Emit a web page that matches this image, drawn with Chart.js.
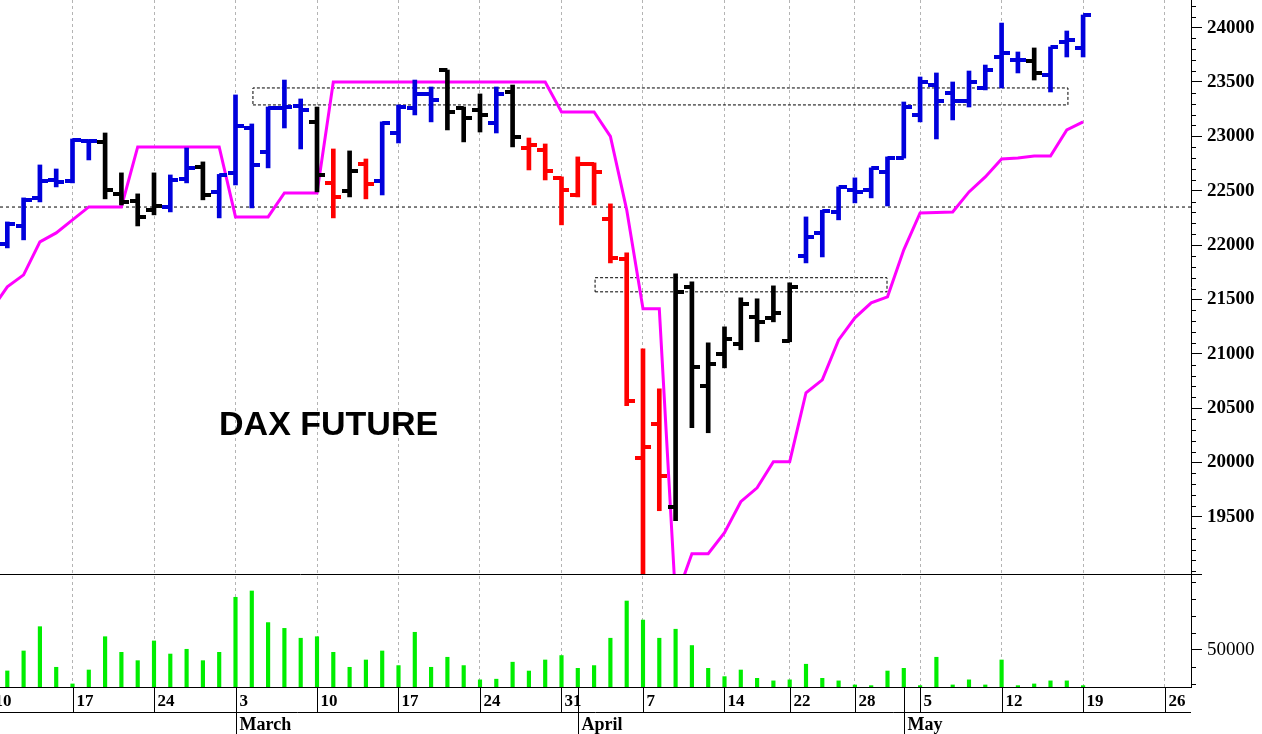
<!DOCTYPE html>
<html>
<head>
<meta charset="utf-8">
<title>DAX Future</title>
<script src="https://cdn.jsdelivr.net/npm/chart.js@4.4.1/dist/chart.umd.min.js"></script>
<style>
  html, body { margin:0; padding:0; background:#fff; }
  #wrap { width:1262px; height:734px; }
</style>
</head>
<body>
<div id="wrap"><canvas id="chart" width="1262" height="734"></canvas></div>
<script>
// Trading days, index 0 = Mon Feb 10 ... index 67 = Mon May 19
const weekStarts = [0, 5, 10, 15, 20, 25, 30, 35, 40, 45, 49, 53, 57, 62, 67, 72];
const weekLabels = ['10','17','24','3','10','17','24','31','7','14','22','28','5','12','19','26'];
const monthStarts = [15, 36, 56];
const monthLabels = ['March', 'April', 'May'];

const open  = [21950,22011,22176,22434,22599,22590,22958,22949,22471,22406,22324,22351,22609,22719,22489,22664,23077,22857,23261,23280,
               23133,22572,22498,22746,22590,23031,23261,23390,23610,23261,23243,23123,23408,22893,22875,22618,22461,22746,22241,21873,
               20044,20357,19594,21616,20706,21000,21092,21340,21331,21120,21901,22112,22305,22507,22507,22673,22801,23197,23472,23399,
               23325,23445,23730,23702,23693,23564,23868,23813];
const high  = [22100,22213,22434,22737,22700,22976,22967,23031,22664,22471,22664,22645,22893,22765,22650,23381,23114,23270,23518,23344,
               23270,22884,22866,22792,23133,23289,23518,23454,23610,23270,23390,23454,23472,22985,22930,22627,22811,22756,22379,21928,
               21046,20678,21735,21662,21101,21248,21515,21506,21625,21653,22259,22320,22535,22618,22710,22811,23316,23546,23583,23500,
               23601,23656,24042,23776,23813,23822,23969,24116];
const low   = [21900,21974,22048,22397,22535,22572,22783,22425,22369,22176,22278,22305,22572,22416,22250,22553,22342,22710,23077,22884,
               22489,22250,22443,22425,22461,22939,23197,23133,23059,22949,23040,23031,22903,22691,22599,22186,22443,22369,21836,20522,
               18500,19557,19465,20320,20274,20871,21037,21111,21294,21111,21836,21891,22232,22388,22434,22360,22800,23133,22976,23151,
               23270,23427,23445,23583,23518,23408,23730,23730];
const close = [22000,22195,22416,22590,22581,22967,22958,22507,22397,22259,22360,22599,22710,22461,22645,23096,22737,23261,23270,23243,
               22645,22443,22682,22563,23123,23270,23390,23335,23224,23169,23197,23390,22995,22921,22682,22507,22746,22673,21882,20568,
               20145,19879,21570,20880,20908,21138,21460,21294,21377,21616,22075,22314,22535,22489,22710,22801,23270,23500,23325,23325,
               23500,23610,23767,23702,23583,23822,23886,24116];
// b = blue, k = black, r = red
const trend = 'bbbbbbbkkkkbbkbbbbbbkrkrbbbbkkkbkrrrrrrrrrkkkkkkkkbbbbbbbbbbbbbbkbbb'.split('');
const volume = [40000,37650,49400,63700,39800,30000,38200,57800,48600,43700,55300,47600,50400,43700,48600,81000,84700,66100,62700,56900,
                57800,48600,39800,44100,49400,40800,60400,39800,45700,40800,32400,32800,42800,37600,44100,46700,39200,40800,56900,78800,
                67600,56900,62200,52600,39200,34300,38200,33300,31800,32400,41600,33300,31800,29400,29000,37600,39200,29000,45700,29400,
                32400,29400,44100,29000,30000,31800,31800,29000];
const stopLine = [21400,21616,21726,22030,22112,22232,22351,22351,22351,22903,22903,22903,22903,22903,22903,22259,22259,22259,22480,22480,
                  22480,23500,23500,23500,23500,23500,23500,23500,23500,23500,23500,23500,23500,23500,23500,23224,23224,23224,23000,22324,
                  21414,21414,18740,19162,19162,19354,19640,19768,20008,20008,20642,20761,21128,21331,21469,21524,21956,22296,22300,22305,
                  22489,22627,22792,22801,22820,22820,23059,23133];

const priceTicks = [19500, 20000, 20500, 21000, 21500, 22000, 22500, 23000, 23500, 24000];
const volumeTicks = [50000];
const supportLevel = 22350;
const boxFrom = [16.07, 37.06];
const boxTo   = [66.07, 54.97];
const boxLow  = [23289, 21570];
const boxHigh = [23445, 21700];

const X_MIN = 0.552, X_MAX = 73.62;
const P_MIN = 18975, P_MAX = 24254;
const V_MIN = 28200, V_MAX = 94700;
const TITLE_AT = [13.99, 20250];

const COLORS = { b:'#0000dc', k:'#000000', r:'#ff0000' };
const SERIF = '"Liberation Serif", "Times New Roman", serif';

// small canvases used as point styles for open (left) / close (right) ticks
function tickImage(color, side){
  const c = document.createElement('canvas');
  c.width = 16; c.height = 4;
  const g = c.getContext('2d');
  g.fillStyle = color;
  if(side === 'left') g.fillRect(0, 0, 8, 4); else g.fillRect(8, 0, 8, 4);
  return c;
}
const leftTick = {}, rightTick = {};
Object.keys(COLORS).forEach(k => { leftTick[k] = tickImage(COLORS[k], 'left'); rightTick[k] = tickImage(COLORS[k], 'right'); });

const pts = arr => arr.map((v, i) => ({ x: i, y: v }));

const datasets = [
  {
    type:'scatter', label:'open', order:0, yAxisID:'y',
    data: pts(open), pointRadius:4, pointHoverRadius:4,
    pointStyle: c => leftTick[trend[c.dataIndex]]
  },
  {
    type:'scatter', label:'close', order:0, yAxisID:'y',
    data: pts(close), pointRadius:4, pointHoverRadius:4,
    pointStyle: c => rightTick[trend[c.dataIndex]]
  },
  {
    type:'bar', label:'range', order:1, yAxisID:'y',
    data: high.map((h, i) => ({ x: i, y: [low[i], h] })),
    backgroundColor: trend.map(t => COLORS[t]),
    grouped:false, barPercentage:1, categoryPercentage:1, maxBarThickness:4, borderWidth:0
  },
  {
    type:'line', label:'stop', order:2, yAxisID:'y',
    data: pts(stopLine), borderColor:'#ff00ff', borderWidth:3, pointRadius:0, tension:0
  },
  {
    type:'line', label:'support', order:3, yAxisID:'y',
    data: [{x:X_MIN, y:supportLevel}, {x:X_MAX, y:supportLevel}],
    borderColor:'#000', borderWidth:1, borderDash:[3,3], pointRadius:0
  },
  ...boxFrom.map((x0, i) => ({
    type:'line', label:'box' + i, order:3, yAxisID:'y',
    data: [{x:x0,y:boxLow[i]},{x:boxTo[i],y:boxLow[i]},{x:boxTo[i],y:boxHigh[i]},{x:x0,y:boxHigh[i]},{x:x0,y:boxLow[i]}],
    borderColor:'#000', borderWidth:1, borderDash:[3,2], pointRadius:0
  })),
  {
    type:'bar', label:'volume', order:1, yAxisID:'yv',
    data: pts(volume), base: V_MIN,
    backgroundColor:'#00ee00',
    grouped:false, barPercentage:1, categoryPercentage:1, maxBarThickness:3.5, borderWidth:0
  }
];

function line(ctx, x1, y1, x2, y2){
  ctx.beginPath(); ctx.moveTo(x1, y1); ctx.lineTo(x2, y2); ctx.stroke();
}

const framePlugin = {
  id:'frame',
  afterDraw(chart){
    const { ctx } = chart;
    const xs = chart.scales.x, ys = chart.scales.y, yv = chart.scales.yv;
    const px = v => Math.round(xs.getPixelForValue(v)) + 0.5;
    ctx.save();
    ctx.strokeStyle = '#000';
    ctx.lineWidth = 1;
    ctx.fillStyle = '#000';

    // divider between price and volume panel
    const yd = Math.round(yv.top) + 0.5;
    line(ctx, xs.left, yd, ys.left + 11, yd);

    // minor ticks
    for(let v = 19000; v <= 24200; v += 100){
      if(priceTicks.includes(v)) continue;
      const y = Math.round(ys.getPixelForValue(v)) + 0.5;
      line(ctx, ys.left, y, ys.left + 5, y);
    }
    for(let v = 30000; v <= 90000; v += 10000){
      if(volumeTicks.includes(v)) continue;
      const y = Math.round(yv.getPixelForValue(v)) + 0.5;
      line(ctx, yv.left, y, yv.left + 5, y);
    }

    // date band
    const top = xs.top, mid = xs.top + 25, bottom = chart.height;
    line(ctx, xs.left, Math.round(mid) + 0.5, xs.right, Math.round(mid) + 0.5);
    ctx.font = 'bold 17px ' + SERIF;
    ctx.textBaseline = 'alphabetic';
    ctx.textAlign = 'left';
    weekStarts.forEach((d, i) => {
      const x = px(d);
      line(ctx, x, top, x, mid);
      ctx.fillText(weekLabels[i], x + 3, mid - 6);
    });
    ctx.font = 'bold 18px ' + SERIF;
    monthStarts.forEach((d, i) => {
      const x = px(d);
      line(ctx, x, top, x, bottom);
      ctx.fillText(monthLabels[i], x + 3, bottom - 4);
    });

    // title
    ctx.font = 'bold 34px "Liberation Sans", Arial, sans-serif';
    ctx.fillText('DAX FUTURE', xs.getPixelForValue(TITLE_AT[0]), ys.getPixelForValue(TITLE_AT[1]));
    ctx.restore();
  }
};

const noPad = s => { s.paddingTop = 0; s.paddingBottom = 0; s.paddingLeft = 0; s.paddingRight = 0; };

new Chart(document.getElementById('chart'), {
  type:'scatter',
  data:{ datasets },
  options:{
    responsive:false,
    devicePixelRatio:1,
    animation:false,
    events:[],
    layout:{ padding:0, autoPadding:false },
    plugins:{ legend:{ display:false }, tooltip:{ enabled:false } },
    scales:{
      x:{
        type:'linear', position:'bottom', min:X_MIN, max:X_MAX, offset:false,
        afterBuildTicks: s => { s.ticks = weekStarts.map(v => ({ value:v })); },
        afterFit: s => { s.height = 47; noPad(s); },
        ticks:{ display:false },
        grid:{ color:'#b4b4b4', lineWidth:1, drawTicks:false, offset:false },
        border:{ display:true, color:'#000', width:1, dash:[3,3] }
      },
      y:{
        type:'linear', position:'right', stack:'panels', stackWeight:574, clip:true,
        min:P_MIN, max:P_MAX,
        afterBuildTicks: s => { s.ticks = priceTicks.map(v => ({ value:v })); },
        afterFit: s => { s.width = 71; noPad(s); },
        ticks:{ color:'#000', padding:5, font:{ family:SERIF, size:19, weight:'bold' }, callback: v => String(v) },
        grid:{ drawOnChartArea:false, drawTicks:true, tickLength:11, color:'#000' },
        border:{ display:true, color:'#000', width:1 }
      },
      yv:{
        type:'linear', position:'right', stack:'panels', stackWeight:113, clip:true,
        min:V_MIN, max:V_MAX,
        afterBuildTicks: s => { s.ticks = volumeTicks.map(v => ({ value:v })); },
        afterFit: s => { s.width = 71; noPad(s); },
        ticks:{ color:'#000', padding:5, font:{ family:SERIF, size:19 }, callback: v => String(v) },
        grid:{ drawOnChartArea:false, drawTicks:true, tickLength:11, color:'#000' },
        border:{ display:true, color:'#000', width:1 }
      }
    }
  },
  plugins:[framePlugin]
});
</script>
</body>
</html>
